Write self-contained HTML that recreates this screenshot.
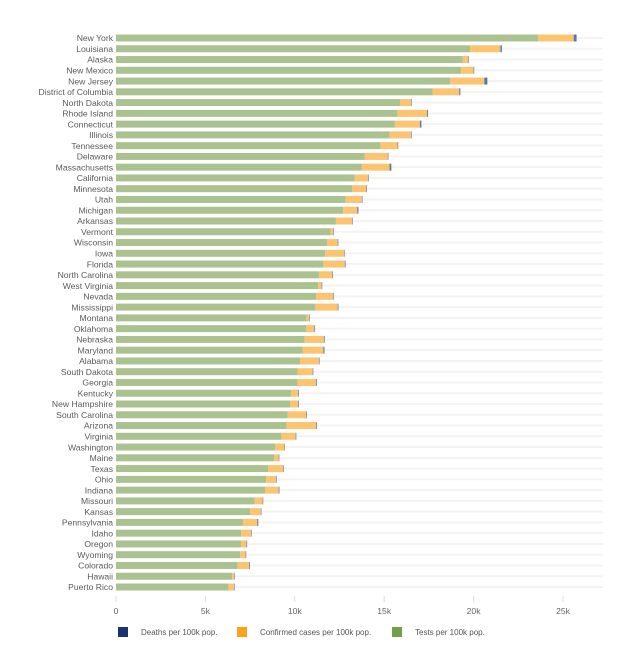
<!DOCTYPE html>
<html><head><meta charset="utf-8"><style>
body{margin:0;background:#fff;font-family:"Liberation Sans",sans-serif;}
svg text{font-family:"Liberation Sans",sans-serif;}
</style></head><body>
<svg id="chart" width="637" height="667" xmlns="http://www.w3.org/2000/svg"></svg>
<script>
const states=["New York","Louisiana","Alaska","New Mexico","New Jersey","District of Columbia","North Dakota","Rhode Island","Connecticut","Illinois","Tennessee","Delaware","Massachusetts","California","Minnesota","Utah","Michigan","Arkansas","Vermont","Wisconsin","Iowa","Florida","North Carolina","West Virginia","Nevada","Mississippi","Montana","Oklahoma","Nebraska","Maryland","Alabama","South Dakota","Georgia","Kentucky","New Hampshire","South Carolina","Arizona","Virginia","Washington","Maine","Texas","Ohio","Indiana","Missouri","Kansas","Pennsylvania","Idaho","Oregon","Wyoming","Colorado","Hawaii","Puerto Rico"];
const tests=[23600,19800,19400,19300,18700,17700,15900,15750,15600,15300,14800,13900,13750,13350,13200,12850,12700,12300,12000,11800,11700,11600,11350,11300,11200,11150,10650,10650,10550,10450,10300,10150,10150,9800,9750,9600,9550,9250,8900,8850,8500,8400,8350,7750,7500,7100,7000,7000,6950,6800,6500,6300];
const cases=[2000,1700,300,700,1900,1500,600,1650,1400,1200,950,1300,1550,750,800,900,800,900,150,600,1050,1200,750,200,950,1250,150,450,1100,1150,1050,850,1050,400,450,1050,1650,800,500,250,850,550,750,450,600,800,550,300,300,650,100,300];
const deaths=[160,80,5,25,170,60,25,50,80,30,10,20,100,30,20,10,60,10,10,20,30,40,20,10,20,40,5,20,20,60,20,20,40,20,20,20,40,20,20,10,20,20,40,20,10,60,10,10,5,40,5,10];
const ticks=[0,5000,10000,15000,20000,25000];
const tickLabels=["0","5k","10k","15k","20k","25k"];
const NS="http://www.w3.org/2000/svg";
const svg=document.getElementById('chart');
const x0=116, pxPer=447/25000, gridEnd=603;
function xs(v){return x0+v*pxPer;}
function ys(i){return 38+i*(549/51);}
function mk(tag,attrs,parent){const e=document.createElementNS(NS,tag);for(const k in attrs)e.setAttribute(k,attrs[k]);(parent||svg).appendChild(e);return e;}
const gG=mk('g',{});


states.forEach((s,i)=>{
  const l=mk('line',{x1:x0,x2:gridEnd,y1:ys(i),y2:ys(i),stroke:'#f3f3f3','stroke-width':2},gG);
  
  
});
states.forEach((s,i)=>{
  const y=ys(i);
  const t=mk('text',{x:113,y:y+3.2,'text-anchor':'end','font-size':'8.6',fill:'#5a5a5a'});
  t.textContent=s;
  
  
  const g=mk('g',{});
  
  
  const r1=mk('rect',{x:xs(0),y:y-3.5,width:xs(tests[i])-xs(0),height:7,fill:'#a9c28f'},g);
  
  
  const r2=mk('rect',{x:xs(tests[i]),y:y-3.5,width:xs(tests[i]+cases[i])-xs(tests[i]),height:7,fill:'#fcc470'},g);
  
  
  const r3=mk('rect',{x:xs(tests[i]+cases[i]),y:y-3.5,width:Math.max(0.6,xs(tests[i]+cases[i]+deaths[i])-xs(tests[i]+cases[i])),height:7,fill:'#5877a8'},g);
  
  
});
ticks.forEach((v,i)=>{
  const tk=mk('line',{x1:xs(v),x2:xs(v),y1:596,y2:602,stroke:'#ddd','stroke-width':1});
  
  
  const t=mk('text',{x:xs(v),y:614,'text-anchor':'middle','font-size':'8.6',fill:'#666'});
  t.textContent=tickLabels[i];
  
  
});
const legend=[["Deaths per 100k pop.","#1a3471",118],["Confirmed cases per 100k pop.","#f9a21c",237],["Tests per 100k pop.","#72a047",392]];
legend.forEach(([lab,c,x])=>{
  const g=mk('g',{});
  
  
  mk('rect',{x:x,y:627,width:10,height:10,fill:c},g);
  const t=mk('text',{x:x+23,y:635,'font-size':'8','fill':'#555'},g);
  t.textContent=lab;
});
</script>
</body></html>
